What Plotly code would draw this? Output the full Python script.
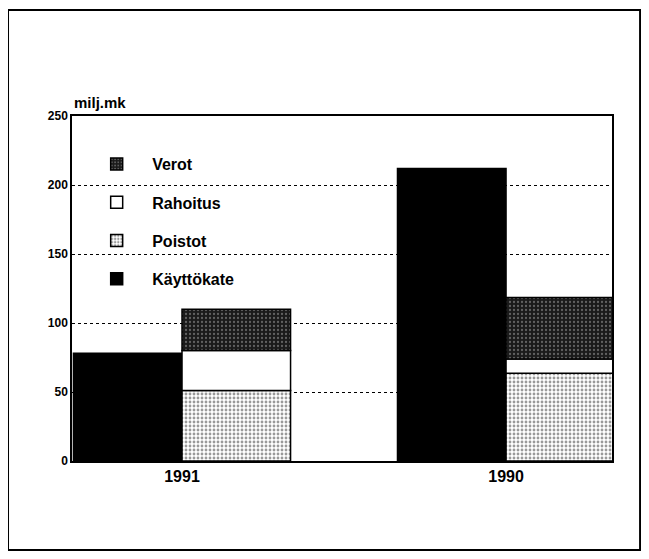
import plotly.graph_objects as go

years = ["1991", "1990"]
kayttokate = [78, 212]
poistot = [51, 63.5]
rahoitus = [29, 10.5]
verot = [30, 44.5]

rahoitus_base = [p for p in poistot]
verot_base = [p + r for p, r in zip(poistot, rahoitus)]

W = 0.335
line = {"color": "black", "width": 1.5}

fig = go.Figure()
fig.add_trace(go.Bar(
    x=years, y=kayttokate, name="<b>Käyttökate</b>", offset=-W, width=W,
    marker={"color": "black", "line": line}, legendgroup="k", legendrank=4,
))
fig.add_trace(go.Bar(
    x=years, y=poistot, name="<b>Poistot</b>", offset=0, width=W,
    marker={"color": "white", "line": line,
            "pattern": {"shape": ".", "fgcolor": "#333", "bgcolor": "white",
                        "size": 4, "solidity": 0.4}},
    legendgroup="p", legendrank=3,
))
fig.add_trace(go.Bar(
    x=years, y=rahoitus, base=rahoitus_base, name="<b>Rahoitus</b>", offset=0, width=W,
    marker={"color": "white", "line": line}, legendgroup="r", legendrank=2,
))
fig.add_trace(go.Bar(
    x=years, y=verot, base=verot_base, name="<b>Verot</b>", offset=0, width=W,
    marker={"color": "#1a1a1a", "line": line,
            "pattern": {"shape": ".", "fgcolor": "#aaa", "bgcolor": "#1a1a1a",
                        "size": 4, "solidity": 0.25}},
    legendgroup="v", legendrank=1,
))

fig.update_layout(
    width=649, height=559,
    margin={"l": 64, "r": 45, "t": 108, "b": 106},
    paper_bgcolor="white", plot_bgcolor="white",
    barmode="overlay",
    font={"family": "Liberation Sans, Arial, sans-serif", "color": "black"},
    showlegend=True,
    legend={"x": 0.017, "y": 0.91, "xanchor": "left", "yanchor": "top",
            "traceorder": "grouped", "tracegroupgap": 14.5,
            "font": {"size": 16}, "bgcolor": "rgba(0,0,0,0)", "itemwidth": 61},
    xaxis={"range": [-0.3395, 1.327], "showgrid": False, "ticks": "",
           "ticktext": ["<b>1991</b>", "<b>1990</b>"], "tickvals": years,
           "showline": True, "linecolor": "black", "linewidth": 1.5, "mirror": True,
           "tickfont": {"size": 16}},
    yaxis={"range": [0, 250], "tickvals": [0, 50, 100, 150, 200, 250],
           "ticktext": ["<b>0</b>", "<b>50</b>", "<b>100</b>", "<b>150</b>", "<b>200</b>", "<b>250</b>"],
           "showgrid": True, "gridcolor": "black", "griddash": "dot", "gridwidth": 1,
           "ticks": "", "showline": True, "linecolor": "black", "linewidth": 1.5,
           "mirror": True, "zeroline": False, "tickfont": {"size": 12}},
)
fig.add_annotation(text="<b>milj.mk</b>", xref="paper", yref="paper", x=0, y=1.0,
                   xanchor="left", yanchor="bottom", yshift=3, showarrow=False,
                   font={"size": 15})
fig.add_shape(type="rect", xref="paper", yref="paper", x0=-0.1185, x1=1.052,
              y0=-0.258, y1=1.307, line={"color": "black", "width": 2})

fig.write_html("out.html")
